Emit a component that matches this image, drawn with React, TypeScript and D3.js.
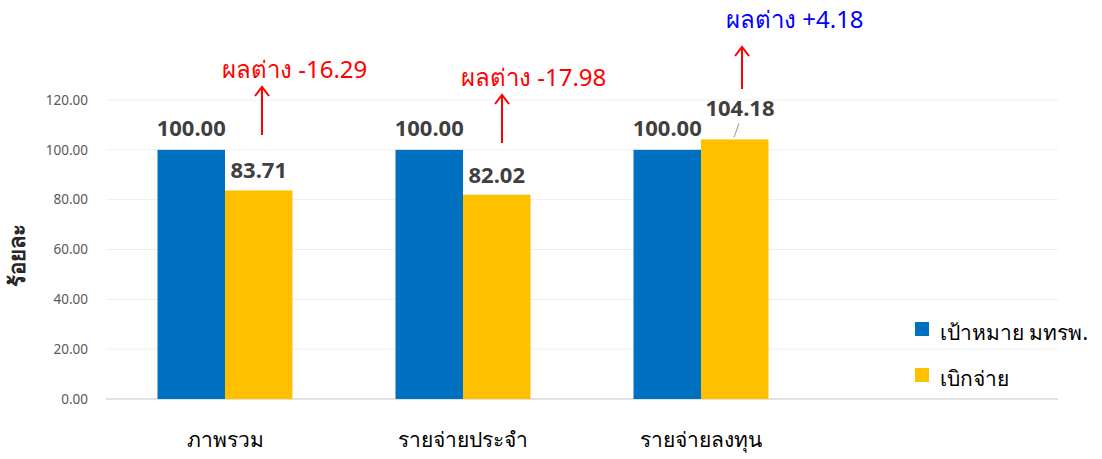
import React from "react";
import * as d3 from "d3";

const categories = ["ภาพรวม", "รายจ่ายประจำ", "รายจ่ายลงทุน", ""];
const targetValues = [100.0, 100.0, 100.0];
const actualValues = [83.71, 82.02, 104.18];
const diffLabels = ["ผลต่าง -16.29", "ผลต่าง -17.98", "ผลต่าง +4.18"];
const diffColors = ["#FF0000", "#FF0000", "#0000FF"];
const yTicks = [0, 20, 40, 60, 80, 100, 120];
const seriesNames = ["เป้าหมาย มทรพ.", "เบิกจ่าย"];
const seriesColors = ["#0070C0", "#FFC000"];

const W = 1102;
const H = 459;
const FONT = "'Noto Sans', 'Open Sans', sans-serif";

export default function App() {
  const x = d3.scaleBand<string>().domain(categories.map((c, i) => String(i))).range([106, 1058]);
  const y = d3.scaleLinear().domain([0, 120]).range([399, 100]);
  const barW = 67.5;
  const diffPos = [
    { dx: 37, textX: -3, textY: 78, arrowTop: 87, arrowBottom: 135 },
    { dx: 39, textX: -2, textY: 86, arrowTop: 95, arrowBottom: 143 },
    { dx: 41, textX: 25, textY: 28, arrowTop: 47, arrowBottom: 89 },
  ];
  return (
    <svg width={W} height={H} style={{ position: "absolute", left: 0, top: 0 }} fontFamily={FONT}>
      <rect width={W} height={H} fill="#fff" />
      {yTicks.map((t) => (
        <g key={t}>
          <line x1={106} x2={1058} y1={y(t)} y2={y(t)} stroke={t === 0 ? "#D9D9D9" : "#EFEFEF"} strokeWidth={t === 0 ? 1.5 : 1} />
          <text x={88} y={y(t)} dy="0.35em" textAnchor="end" fontSize={13.5} fill="#595959">
            {d3.format(".2f")(t)}
          </text>
        </g>
      ))}
      <text transform="translate(25,255) rotate(-90)" textAnchor="middle" fontSize={22} fontWeight="bold" fill="#262626">
        ร้อยละ
      </text>
      {targetValues.map((v, i) => {
        const c = x(String(i))! + x.bandwidth() / 2;
        const a = actualValues[i];
        const high = a > v;
        const p = diffPos[i];
        const ax = c + p.dx;
        return (
          <g key={i}>
            <rect x={c - barW} y={y(v)} width={barW} height={y(0) - y(v)} fill={seriesColors[0]} />
            <rect x={c} y={y(a)} width={barW} height={y(0) - y(a)} fill={seriesColors[1]} />
            <text x={c - barW / 2} y={y(v) - 14} textAnchor="middle" fontSize={22} fontWeight="bold" fill="#404040">
              {d3.format(".2f")(v)}
            </text>
            {high ? (
              <>
                <text x={c + 39} y={y(a) - 23} textAnchor="middle" fontSize={22} fontWeight="bold" fill="#404040">
                  {d3.format(".2f")(a)}
                </text>
                <line x1={c + 38} y1={y(a) - 16} x2={c + 33} y2={y(a) - 2} stroke="#A6A6A6" strokeWidth={1.2} />
              </>
            ) : (
              <text x={c + barW / 2} y={y(a) - 12} textAnchor="middle" fontSize={22} fontWeight="bold" fill="#404040">
                {d3.format(".2f")(a)}
              </text>
            )}
            <line x1={ax} x2={ax} y1={p.arrowBottom} y2={p.arrowTop + 1} stroke="#FF0000" strokeWidth={2} />
            <path d={`M${ax - 7},${p.arrowTop + 9} L${ax},${p.arrowTop} L${ax + 7},${p.arrowTop + 9}`} fill="none" stroke="#FF0000" strokeWidth={2} />
            <text x={c + p.textX} y={p.textY} fontSize={24} fill={diffColors[i]}>
              {diffLabels[i]}
            </text>
          </g>
        );
      })}
      {categories.slice(0, 3).map((cat, i) => (
        <text key={cat} x={x(String(i))! + x.bandwidth() / 2} y={447} textAnchor="middle" fontSize={21} fill="#000">
          {cat}
        </text>
      ))}
      {seriesNames.map((n, i) => (
        <g key={n}>
          <rect x={915} y={322 + i * 46} width={14} height={14} fill={seriesColors[i]} />
          <text x={940} y={340 + i * 46} fontSize={21} fill="#000">
            {n}
          </text>
        </g>
      ))}
    </svg>
  );
}
